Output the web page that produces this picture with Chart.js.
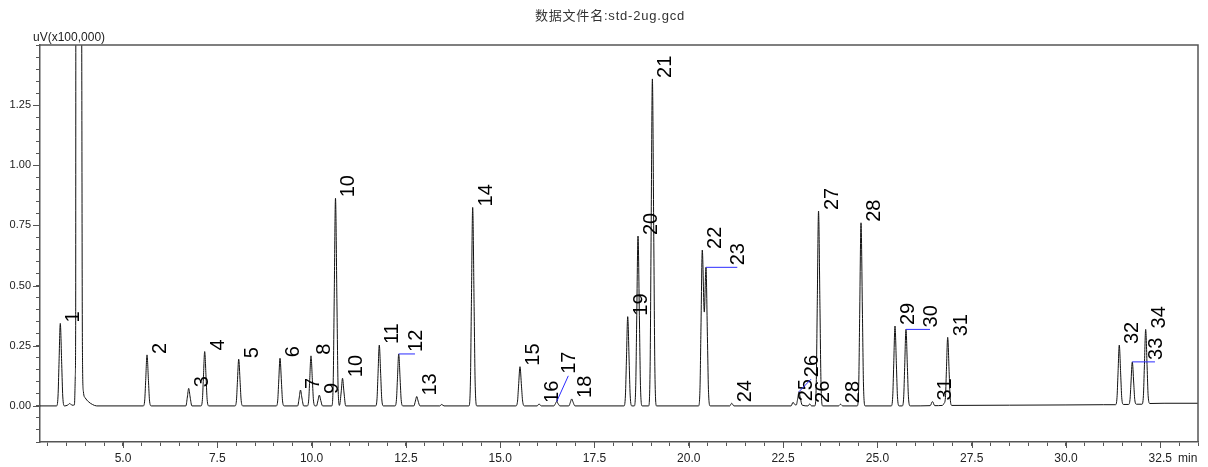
<!DOCTYPE html>
<html>
<head>
<meta charset="utf-8">
<script src="https://cdn.jsdelivr.net/npm/chart.js@4.4.1/dist/chart.umd.min.js"></script>
<style>
  html, body { margin: 0; padding: 0; background: #fff; }
  canvas { display: block; }
</style>
</head>
<body>
<canvas id="chrom" width="1208" height="467"></canvas>
<script>
// Header and axis captions
const fileTitle = '数据文件名:std-2ug.gcd';
const signalUnit = 'uV(x100,000)';
const timeUnit = 'min';

// Labelled axis steps (minor ticks fall every 0.5 min / 0.05 units)
const timeMajorStep = 2.5;
const signalMajorTicks = [0, 0.25, 0.5, 0.75, 1.0, 1.25];

// Detector trace: retention time (min) and signal (x100,000 uV)
const retentionMin = [
  2.800,
  3.238, 3.278, 3.303, 3.338, 3.376, 3.403, 3.448,
  3.530, 3.590, 3.650,
  3.712, 3.735, 3.746, 3.750, 3.830, 3.905, 3.921, 3.930, 3.950, 4.000, 4.080, 4.190, 4.303,
  5.537, 5.577, 5.602, 5.637, 5.675, 5.702, 5.747,
  6.667, 6.707, 6.742, 6.780, 6.827,
  7.066, 7.106, 7.131, 7.166, 7.204, 7.231, 7.276,
  7.968, 8.008, 8.033, 8.068, 8.106, 8.133, 8.178,
  9.063, 9.103, 9.128, 9.163, 9.201, 9.228, 9.273,
  9.631, 9.671, 9.706, 9.744, 9.791,
  9.884, 9.924, 9.949, 9.984, 10.022, 10.049, 10.094,
  10.130, 10.170, 10.205, 10.243, 10.290,
  10.534, 10.574, 10.599, 10.634, 10.672, 10.699, 10.738,
  10.785, 10.820, 10.858, 10.905,
  11.695, 11.735, 11.760, 11.795, 11.833, 11.860, 11.905,
  12.210, 12.250, 12.275, 12.310, 12.348, 12.375, 12.420,
  12.712, 12.752, 12.787, 12.825, 12.872,
  13.400, 13.449, 13.510,
  14.171, 14.211, 14.236, 14.271, 14.309, 14.336, 14.381,
  15.415, 15.460, 15.487, 15.525, 15.565, 15.595, 15.645,
  15.980, 16.030, 16.090,
  16.423, 16.463, 16.498, 16.536, 16.583,
  16.821, 16.861, 16.896, 16.934, 16.981,
  18.281, 18.321, 18.346, 18.381, 18.419, 18.446, 18.491,
  18.554, 18.594, 18.619, 18.654, 18.692, 18.719, 18.764,
  18.935, 18.975, 19.000, 19.035, 19.073, 19.100, 19.145,
  20.258, 20.298, 20.323, 20.358, 20.411, 20.456, 20.494, 20.521, 20.566,
  21.087, 21.137, 21.197,
  22.713, 22.763, 22.815,
  22.850, 22.887, 22.922, 22.960, 23.007,
  23.160, 23.205, 23.255,
  23.340, 23.380, 23.405, 23.440, 23.478, 23.505, 23.550,
  23.970, 24.022, 24.080,
  24.466, 24.506, 24.531, 24.566, 24.604, 24.631, 24.676,
  25.367, 25.407, 25.432, 25.467, 25.505, 25.532, 25.577,
  25.658, 25.698, 25.723, 25.758, 25.796, 25.823, 25.868,
  26.400, 26.461, 26.520,
  26.720, 26.765, 26.804, 26.829, 26.864, 26.902, 26.929, 26.974,
  28.500, 30.000, 31.000,
  31.313, 31.353, 31.378, 31.413, 31.451, 31.478, 31.523,
  31.658, 31.698, 31.723, 31.758, 31.796, 31.823, 31.868,
  32.013, 32.053, 32.078, 32.113, 32.151, 32.178, 32.223,
  32.600, 33.500
];

const signal = [
  0.000,
  0.000, 0.041, 0.172, 0.343, 0.172, 0.041, 0.000,
  0.003, 0.010, 0.003,
  0.004, 0.120, 0.380, 1.600, 5.000, 1.600, 0.380, 0.150, 0.060, 0.033, 0.018, 0.006, 0.000,
  0.000, 0.025, 0.106, 0.212, 0.106, 0.025, 0.000,
  0.000, 0.037, 0.073, 0.037, 0.000,
  0.000, 0.027, 0.113, 0.226, 0.113, 0.027, 0.000,
  0.000, 0.023, 0.097, 0.194, 0.097, 0.023, 0.000,
  0.000, 0.024, 0.099, 0.198, 0.099, 0.024, 0.000,
  0.000, 0.033, 0.066, 0.033, 0.000,
  0.000, 0.025, 0.104, 0.208, 0.104, 0.025, 0.000,
  0.000, 0.023, 0.045, 0.023, 0.000,
  0.000, 0.104, 0.432, 0.863, 0.432, 0.104, 0.002,
  0.058, 0.115, 0.058, 0.000,
  0.000, 0.030, 0.127, 0.253, 0.127, 0.030, 0.000,
  0.000, 0.026, 0.108, 0.216, 0.108, 0.026, 0.000,
  0.000, 0.020, 0.039, 0.020, 0.000,
  0.000, 0.006, 0.000,
  0.000, 0.099, 0.413, 0.825, 0.413, 0.099, 0.000,
  0.000, 0.020, 0.082, 0.163, 0.082, 0.020, 0.000,
  0.000, 0.008, 0.000,
  0.000, 0.009, 0.018, 0.009, 0.000,
  0.000, 0.015, 0.029, 0.015, 0.000,
  0.000, 0.045, 0.186, 0.371, 0.186, 0.045, 0.000,
  0.000, 0.085, 0.353, 0.706, 0.353, 0.085, 0.000,
  0.000, 0.163, 0.680, 1.359, 0.680, 0.163, 0.000,
  0.000, 0.078, 0.324, 0.648, 0.390, 0.576, 0.288, 0.069, 0.000,
  0.000, 0.011, 0.000,
  0.000, 0.015, 0.005,
  0.004, 0.030, 0.059, 0.030, 0.003,
  0.000, 0.008, 0.000,
  0.000, 0.097, 0.405, 0.810, 0.405, 0.097, 0.000,
  0.000, 0.007, 0.000,
  0.000, 0.091, 0.381, 0.761, 0.381, 0.091, 0.000,
  0.000, 0.040, 0.166, 0.332, 0.166, 0.040, 0.000,
  0.000, 0.038, 0.159, 0.318, 0.159, 0.038, 0.000,
  0.001, 0.018, 0.001,
  0.002, 0.010, 0.034, 0.143, 0.285, 0.143, 0.034, 0.002,
  0.003, 0.004, 0.005,
  0.005, 0.035, 0.129, 0.253, 0.129, 0.035, 0.006,
  0.006, 0.027, 0.095, 0.183, 0.095, 0.027, 0.007,
  0.007, 0.043, 0.162, 0.318, 0.162, 0.043, 0.010,
  0.011, 0.011
];

// Peak table: id, apex retention time, apex height
const peakIds = ['1','2','3','4','5','6','7','8','9','10','10','11','12','13','14','15','16','17','18','19',
                 '20','21','22','23','24','25','26','26','27','28','28','29','30','31','31','32','33','34'];
const peakRT = [3.338, 5.637, 6.742, 7.166, 8.068, 9.163, 9.706, 9.984, 10.205, 10.634,
                10.820, 11.795, 12.310, 12.787, 14.271, 15.525, 16.030, 16.498, 16.896, 18.381,
                18.654, 19.035, 20.358, 20.456, 21.137, 22.763, 22.922, 23.205, 23.440, 24.022,
                24.566, 25.467, 25.758, 26.461, 26.864, 31.413, 31.758, 32.113];
const peakHeight = [0.343, 0.212, 0.073, 0.226, 0.194, 0.198, 0.066, 0.208, 0.045, 0.863,
                    0.115, 0.253, 0.216, 0.039, 0.825, 0.163, 0.008, 0.018, 0.029, 0.371,
                    0.706, 1.359, 0.648, 0.576, 0.011, 0.015, 0.059, 0.008, 0.810, 0.007,
                    0.761, 0.332, 0.318, 0.018, 0.285, 0.253, 0.183, 0.318];

// Labels moved off their apex, joined back with a leader line
const movedPeak = [12, 17, 23, 26, 32, 36];
const movedRT = [12.741, 16.806, 21.286, 23.240, 26.395, 32.359];
const movedHeight = [0.216, 0.125, 0.576, 0.111, 0.318, 0.183];

const LATIN = '"Liberation Sans", Arial, sans-serif';
const AXIS_COLOR = '#555';

const chromDecor = {
  id: 'chromDecor',
  afterDatasetsDraw(chart) {
    const { ctx, scales: { x, y } } = chart;
    ctx.save();
    ctx.font = '20px ' + LATIN;
    ctx.fillStyle = '#000';
    ctx.textAlign = 'left';
    ctx.textBaseline = 'alphabetic';
    peakIds.forEach((id, i) => {
      const px = x.getPixelForValue(peakRT[i]);
      const py = y.getPixelForValue(peakHeight[i]);
      const m = movedPeak.indexOf(i);
      let bx, by;
      if (m >= 0) {
        const ax = x.getPixelForValue(movedRT[m]);
        const ay = y.getPixelForValue(movedHeight[m]);
        ctx.save();
        ctx.strokeStyle = '#2b2bff';
        ctx.lineWidth = 1;
        ctx.beginPath();
        ctx.moveTo(px, py);
        ctx.lineTo(ax, ay);
        ctx.stroke();
        ctx.restore();
        bx = ax + 7;
        by = ay - 2;
      } else {
        bx = px + 19;
        by = py - 1;
      }
      ctx.save();
      ctx.translate(bx, by);
      ctx.rotate(-Math.PI / 2);
      ctx.fillText(id, 0, 0);
      ctx.restore();
    });
    ctx.restore();
  },
  afterDraw(chart) {
    const { ctx, chartArea: a, scales: { x, y } } = chart;
    ctx.save();
    ctx.strokeStyle = AXIS_COLOR;
    ctx.lineWidth = 1.5;
    ctx.beginPath();
    ctx.moveTo(a.left, a.top);
    ctx.lineTo(a.right, a.top);
    ctx.lineTo(a.right, a.bottom);
    ctx.stroke();

    // longer marks at the labelled ticks
    ctx.lineWidth = 1;
    ctx.beginPath();
    signalMajorTicks.forEach(v => {
      const py = Math.round(y.getPixelForValue(v)) + 0.5;
      ctx.moveTo(a.left - 7, py);
      ctx.lineTo(a.left, py);
    });
    for (let t = 5; t <= x.max; t += timeMajorStep) {
      const px = Math.round(x.getPixelForValue(t)) + 0.5;
      ctx.moveTo(px, a.bottom);
      ctx.lineTo(px, a.bottom + 6);
    }
    ctx.stroke();

    ctx.fillStyle = '#333';
    ctx.font = '13px "Liberation Sans", "Noto Sans CJK SC", sans-serif';
    ctx.letterSpacing = '0.8px';
    ctx.textAlign = 'center';
    ctx.textBaseline = 'middle';
    ctx.fillText(fileTitle, 610, 16);
    ctx.letterSpacing = '0px';

    ctx.fillStyle = '#222';
    ctx.font = '12px ' + LATIN;
    ctx.textAlign = 'left';
    ctx.textBaseline = 'alphabetic';
    ctx.fillText(signalUnit, 33, 41);
    ctx.fillText(timeUnit, 1178, 462);
    ctx.restore();
  }
};

new Chart(document.getElementById('chrom'), {
  type: 'line',
  data: {
    datasets: [{
      data: retentionMin.map((t, i) => ({ x: t, y: signal[i] })),
      borderColor: '#111',
      borderWidth: 1,
      pointRadius: 0,
      fill: false,
      cubicInterpolationMode: 'monotone'
    }]
  },
  options: {
    responsive: false,
    animation: false,
    events: [],
    layout: { padding: { top: 45, right: 10, left: 0, bottom: 0 } },
    plugins: { legend: { display: false }, tooltip: { enabled: false }, title: { display: false } },
    scales: {
      x: {
        type: 'linear',
        min: 2.8,
        max: 33.5,
        afterFit(s) { s.height = 25; },
        border: { display: true, color: AXIS_COLOR, width: 1.5 },
        grid: { drawOnChartArea: false, drawTicks: true, tickLength: 4, tickColor: AXIS_COLOR },
        ticks: {
          stepSize: 0.5,
          autoSkip: false,
          includeBounds: false,
          maxRotation: 0,
          padding: 5,
          color: '#222',
          font: { family: LATIN, size: 12 },
          callback(v) {
            const c = Math.round(v * 10);
            return c % 25 === 0 ? (c / 10).toFixed(1) : '';
          }
        }
      },
      y: {
        min: -0.15,
        max: 1.5,
        afterFit(s) { s.width = 40; },
        border: { display: true, color: AXIS_COLOR, width: 1.5 },
        grid: { drawOnChartArea: false, drawTicks: true, tickLength: 4, tickColor: AXIS_COLOR },
        ticks: {
          stepSize: 0.05,
          autoSkip: false,
          includeBounds: false,
          padding: 5,
          color: '#222',
          font: { family: LATIN, size: 11 },
          callback(v) {
            const c = Math.round(v * 100);
            return (c % 25 === 0 && c >= 0 && c <= 125) ? (c / 100).toFixed(2) : '';
          }
        }
      }
    }
  },
  plugins: [chromDecor]
});
</script>
</body>
</html>
